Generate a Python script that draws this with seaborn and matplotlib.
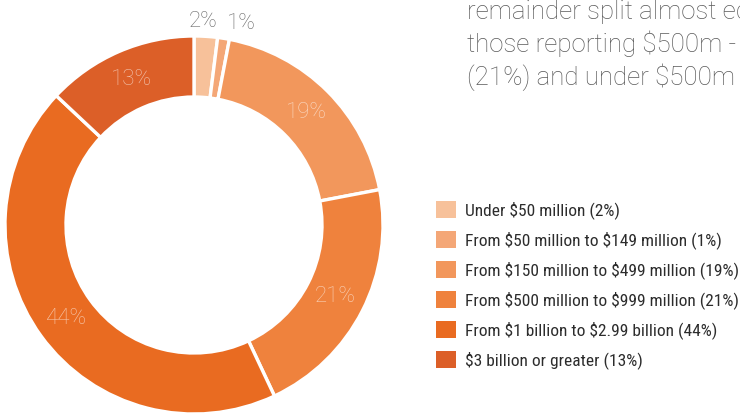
import matplotlib
matplotlib.use("Agg")
import matplotlib.pyplot as plt
from matplotlib import font_manager
from matplotlib.patches import Patch
import numpy as np
import seaborn as sns

# Revenue bands and share of respondents (%)
categories = [
    "Under $50 million",
    "From $50 million to $149 million",
    "From $150 million to $499 million",
    "From $500 million to $999 million",
    "From $1 billion to $2.99 billion",
    "$3 billion or greater",
]
shares = [2, 1, 19, 21, 44, 13]
colors = ["#F7C19A", "#F4A777", "#F2975C", "#EF823D", "#E96B21", "#DC5F28"]
intro_lines = [
    "remainder split almost equally between",
    "those reporting $500m - $999m in revenue",
    "(21%) and under $500m in revenue (22%).",
]

sns.set_theme(style="white")
plt.rcParams["font.family"] = ["Roboto", "DejaVu Sans"]
plt.rcParams["text.parse_math"] = False


def narrow_font():
    """Pick a condensed sans face for the legend if one is installed."""
    entries = font_manager.fontManager.ttflist
    names = {f.name for f in entries}
    for fam in ("Roboto Condensed", "Liberation Sans Narrow", "Arial Narrow"):
        if fam in names:
            return font_manager.FontProperties(family=fam, weight="normal")
    for f in entries:
        if f.stretch in ("condensed", "semi-condensed") and "sans" in f.name.lower():
            return font_manager.FontProperties(fname=f.fname)
    return font_manager.FontProperties(family="Roboto")


W, H, DPI = 740, 413, 100
fig = plt.figure(figsize=(W / DPI, H / DPI), dpi=DPI)
fig.patch.set_facecolor("white")

# axes in which one data unit equals the outer radius (189 px)
R_PX = 189.0
cx, cy = 194.0, H - 225.0
ax = fig.add_axes([0, 0, 1, 1])

ring = 61.0 / R_PX
wedges, _ = ax.pie(
    shares, colors=colors, startangle=90, counterclock=False, radius=1.0,
    wedgeprops=dict(width=ring, edgecolor="white", linewidth=2.4),
    frame=True,
)
ax.set_xlim(-cx / R_PX, (W - cx) / R_PX)
ax.set_ylim(-cy / R_PX, (H - cy) / R_PX)
ax.set_aspect("auto")
ax.axis("off")

# percentage labels: inside the ring, or just outside it for tiny slices
mid_r = 1.0 - ring / 2
for w, s in zip(wedges, shares):
    ang = np.deg2rad((w.theta1 + w.theta2) / 2)
    if s < 5:
        r = 1.1
        nudge = -0.02 if s >= 2 else 0.08
        ax.text(r * np.cos(ang) + nudge, r * np.sin(ang) - 0.02, f"{s}%",
                ha="center", va="center", fontsize=16, color="#6b6b6b",
                fontweight="light")
    else:
        ax.text(mid_r * np.cos(ang), mid_r * np.sin(ang), f"{s}%",
                ha="center", va="center", fontsize=16, color="white",
                alpha=0.62, fontweight="light")

# intro paragraph, running off the right edge
for i, line in enumerate(intro_lines):
    fig.text(467 / W, 1 - (19 + 33 * i) / H, line, ha="left", va="baseline",
             fontsize=18.6, color="#5a5a5a", fontweight="light")

# legend: size the font so the longest entry spans ~272 px
labels = [f"{c} ({s}%)" for c, s in zip(categories, shares)]
prop = narrow_font()
prop.set_size(13)
renderer = fig.canvas.get_renderer()
probe = fig.text(0, 0, max(labels, key=len), fontproperties=prop)
width = probe.get_window_extent(renderer).width
probe.remove()
prop.set_size(min(13, 13 * 272.0 / width))
fs_px = prop.get_size() * DPI / 72.0

handles = [Patch(facecolor=c, edgecolor="none") for c in colors]
fig.legend(
    handles, labels, loc="upper left",
    bbox_to_anchor=(436 / W, 1 - 200.5 / H), frameon=False,
    prop=prop, labelcolor="#2c2c2c",
    handlelength=20 / fs_px, handleheight=20 / fs_px,
    handletextpad=9 / fs_px, labelspacing=11.7 / fs_px,
    borderpad=0, borderaxespad=0,
)

fig.savefig("out.png", dpi=DPI, facecolor="white")
